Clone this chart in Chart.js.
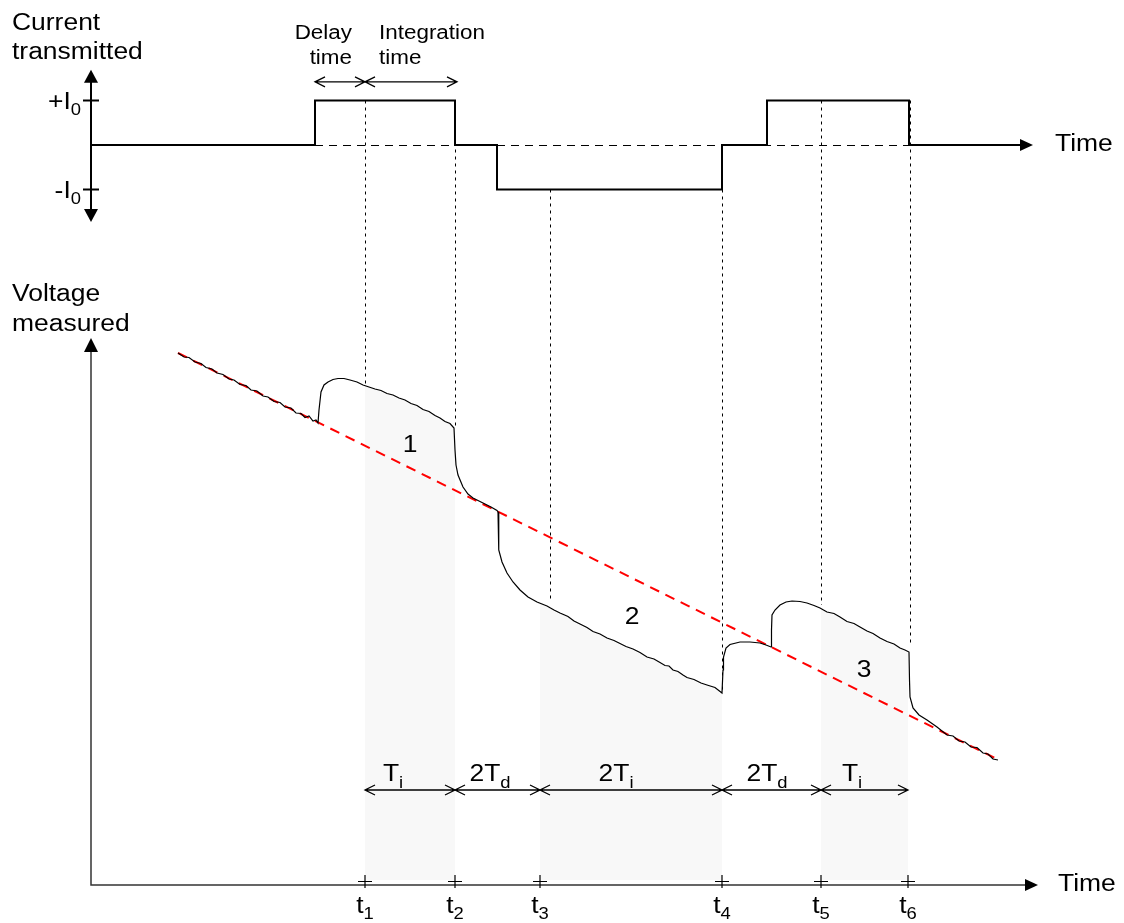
<!DOCTYPE html>
<html>
<head>
<meta charset="utf-8">
<script src="https://cdn.jsdelivr.net/npm/chart.js@4.4.1/dist/chart.umd.min.js"></script>
<style>
  html, body { margin: 0; padding: 0; background: #fff; }
  #wrap { width: 1124px; height: 923px; }
</style>
</head>
<body>
<div id="wrap"><canvas id="diagram" width="1124" height="923"></canvas></div>
<script>
// time in ms (arbitrary), voltage in mV (arbitrary), current in units of I0

// Current transmitted: level changes (step-before)
const currentTimes  = [0, 22.4, 36.4, 40.6, 63.1, 67.6, 81.8, 92.9];
const currentLevels = [0, 1, 0, -1, 0, 1, 0, 0];

// Voltage measured
const voltageTimes = [
    8.7, 9.3, 9.8, 10.4, 11.0, 11.5, 12.1, 12.6, 13.2, 13.8, 14.3, 14.9, 15.5, 16.0, 16.6, 17.2, 17.7, 18.3,
    18.9, 19.4, 20.0, 20.5, 21.0, 21.4, 21.8, 22.2, 22.5, 22.7,
    22.8, 23.0, 23.3, 23.7, 24.2, 24.7, 25.3, 25.9, 26.6, 27.2, 27.8, 28.4, 29.0, 29.6, 30.2, 30.8, 31.4,
    32.0, 32.6, 33.2, 33.8, 34.4, 34.9, 35.4, 35.9, 36.3,
    36.4, 36.5, 36.7, 37.2, 37.7, 38.2, 39.2, 40.0, 40.6, 40.7,
    40.75, 40.8, 41.1, 41.6, 42.2, 42.9, 43.7, 44.6, 45.6, 46.3, 46.9, 47.7, 48.3, 48.9, 49.6, 50.2, 50.9,
    51.6, 52.3, 52.9, 53.5, 54.2, 54.9, 55.6, 56.3, 56.9, 57.4, 57.8, 58.2, 58.7, 59.2, 59.6, 60.3, 61.0,
    61.6, 62.4, 63.1,
    63.2, 63.25, 63.5, 63.9, 64.9, 65.9, 66.9, 67.5, 68.0,
    68.05, 68.1, 68.4, 68.9, 69.5, 70.1, 70.9, 71.6, 72.3, 72.9, 73.6, 74.3, 74.9, 75.6, 76.3, 76.9, 77.6,
    78.2, 78.9, 79.6, 80.3, 80.9, 81.4, 81.8,
    81.85, 81.9, 82.2, 82.8, 83.6, 84.6, 85.6, 86.2, 86.8, 87.4, 88.0, 88.6, 89.2, 89.7, 90.2, 90.7
];
const voltageValues = [
    53.2, 52.8, 52.75, 52.3, 52.15, 51.75, 51.6, 51.2, 51.05, 50.6, 50.5, 50.05, 49.95, 49.5, 49.4, 48.9, 48.8, 48.35,
    48.25, 47.8, 47.7, 47.2, 47.15, 46.75, 46.9, 46.4, 46.5, 46.2,
    47.5, 49.3, 50.0, 50.3, 50.55, 50.65, 50.65, 50.5, 50.3, 50.0, 49.8, 49.6, 49.45, 49.15, 49.0, 48.7, 48.5,
    48.15, 47.95, 47.55, 47.35, 46.95, 46.7, 46.35, 46.15, 45.7,
    43.5, 42.0, 41.0, 39.8, 39.1, 38.7, 38.2, 37.8, 37.45, 37.3,
    35.5, 33.5, 32.3, 31.2, 30.3, 29.5, 28.8, 28.3, 27.9, 27.5, 27.2, 26.85, 26.4, 26.1, 25.75, 25.35, 25.1,
    24.7, 24.45, 24.15, 23.85, 23.6, 23.25, 22.8, 22.6, 22.25, 21.95, 21.9, 21.5, 21.35, 21.0, 20.75, 20.55, 20.2,
    20.0, 19.75, 19.2,
    21.5, 22.8, 23.7, 24.05, 24.3, 24.3, 24.2, 24.0, 23.8,
    25.5, 27.0, 27.5, 28.0, 28.3, 28.4, 28.35, 28.2, 27.95, 27.7, 27.3, 27.15, 26.8, 26.35, 26.15, 25.8, 25.4,
    25.15, 24.7, 24.35, 24.1, 23.7, 23.5, 23.3,
    20.5, 18.8, 17.7, 17.0, 16.5, 15.8, 15.0, 14.9, 14.4, 14.3, 13.8, 13.75, 13.2, 13.1, 12.6, 12.5
];

// Background drift (red dashed)
const driftTimes  = [8.7, 90.4];
const driftValues = [53.2, 12.7];

// Sample instants t1..t6
const markerTimes = [27.4, 36.4, 44.9, 63.1, 73.0, 81.7];
const markerNames = ['1', '2', '3', '4', '5', '6'];

// Dotted guides: time, start level (current), end level (voltage)
const guideTimes  = [27.4, 36.4, 45.9, 63.1, 73.0, 81.9];
const guideStarts = [1, 1, -1, -1, 1, 1];
const guideEnds   = [49.9, 45.7, 28.5, 19.3, 28.0, 24.0];

// Integration windows (shaded)
const shadeStarts = [27.4, 44.9, 73.0];
const shadeEnds   = [36.4, 63.1, 81.7];
const shadeFloor  = 0.5;

// Interval labels between markers
const intervalMain = ['T', '2T', '2T', '2T', 'T'];
const intervalSub  = ['i', 'd', 'i', 'd', 'i'];
const intervalLabelTimes = [30.2, 39.9, 52.5, 67.6, 76.1];
const intervalLevel = 9.5;
const intervalLabelLevel = 10.4;

// Area numbers
const areaNames  = ['1', '2', '3'];
const areaTimes  = [31.9, 54.1, 77.3];
const areaValues = [43.9, 26.7, 21.4];

// Layout
const AREA_TOP = 5, AREA_BOTTOM = 885, I_ZERO_PX = 145, I_UNIT_PX = 44.5;
const SX = 1.15;
const FONT = '"Liberation Sans", Arial, Helvetica, sans-serif';
const SHADE = '#f8f8f8';

function drawText(ctx, str, x, y, size, align, baseline) {
    ctx.save();
    ctx.font = size + 'px ' + FONT;
    ctx.textBaseline = baseline || 'alphabetic';
    const w = ctx.measureText(str).width * SX;
    const x0 = align === 'center' ? x - w / 2 : align === 'right' ? x - w : x;
    ctx.translate(x0, y);
    ctx.scale(SX, 1);
    ctx.textAlign = 'left';
    ctx.fillStyle = '#000';
    ctx.fillText(str, 0, 0);
    ctx.restore();
}

function drawSubText(ctx, main, sub, x, y, size, subSize, align, drop) {
    ctx.save();
    ctx.font = size + 'px ' + FONT;
    const wm = ctx.measureText(main).width * SX;
    ctx.font = subSize + 'px ' + FONT;
    const ws = ctx.measureText(sub).width * SX;
    ctx.restore();
    const w = wm + ws;
    const x0 = align === 'center' ? x - w / 2 : align === 'right' ? x - w : x;
    drawText(ctx, main, x0, y, size, 'left');
    drawText(ctx, sub, x0 + wm, y + (drop || size * 0.3), subSize, 'left');
}

function filledHead(ctx, tx, ty, dir, len, half) {
    ctx.beginPath();
    ctx.moveTo(tx, ty);
    if (dir === 'up') { ctx.lineTo(tx - half, ty + len); ctx.lineTo(tx + half, ty + len); }
    if (dir === 'down') { ctx.lineTo(tx - half, ty - len); ctx.lineTo(tx + half, ty - len); }
    if (dir === 'right') { ctx.lineTo(tx - len, ty - half); ctx.lineTo(tx - len, ty + half); }
    ctx.closePath();
    ctx.fill();
}

function doubleArrow(ctx, xa, xb, y) {
    ctx.beginPath();
    ctx.moveTo(xa, y); ctx.lineTo(xb, y);
    ctx.moveTo(xa + 10, y - 5); ctx.lineTo(xa, y); ctx.lineTo(xa + 10, y + 5);
    ctx.moveTo(xb - 10, y - 5); ctx.lineTo(xb, y); ctx.lineTo(xb - 10, y + 5);
    ctx.stroke();
}

const diagramPlugin = {
    id: 'diagram',
    beforeDatasetsDraw(chart) {
        const ctx = chart.ctx;
        const x = chart.scales.x, yV = chart.scales.yV, yI = chart.scales.yI;
        const area = chart.chartArea;

        // shaded integration windows under the voltage curve
        const pts = chart.getDatasetMeta(2).data;
        const floor = yV.getPixelForValue(shadeFloor);
        shadeStarts.forEach((a, i) => {
            const xa = x.getPixelForValue(a), xb = x.getPixelForValue(shadeEnds[i]);
            ctx.save();
            ctx.beginPath();
            ctx.rect(xa, area.top, xb - xa, floor - area.top);
            ctx.clip();
            ctx.beginPath();
            ctx.moveTo(pts[0].x, floor);
            pts.forEach(p => ctx.lineTo(p.x, p.y));
            ctx.lineTo(pts[pts.length - 1].x, floor);
            ctx.closePath();
            ctx.fillStyle = SHADE;
            ctx.fill();
            ctx.restore();
        });

        // dashed zero-current reference
        ctx.save();
        ctx.strokeStyle = '#000';
        ctx.lineWidth = 1;
        ctx.setLineDash([8, 6]);
        const y0 = Math.round(yI.getPixelForValue(0)) + 0.5;
        ctx.beginPath();
        ctx.moveTo(x.getPixelForValue(0), y0);
        ctx.lineTo(x.getPixelForValue(92), y0);
        ctx.stroke();

        // dotted guides
        ctx.setLineDash([3, 4]);
        ctx.strokeStyle = '#000';
        guideTimes.forEach((t, i) => {
            const gx = Math.round(x.getPixelForValue(t)) + 0.5;
            ctx.beginPath();
            ctx.moveTo(gx, yI.getPixelForValue(guideStarts[i]));
            ctx.lineTo(gx, yV.getPixelForValue(guideEnds[i]));
            ctx.stroke();
        });
        ctx.restore();
    },
    afterDatasetsDraw(chart) {
        const ctx = chart.ctx;
        const x = chart.scales.x, yV = chart.scales.yV, yI = chart.scales.yI;
        const x0 = x.getPixelForValue(0);

        ctx.save();
        ctx.fillStyle = '#000';
        ctx.strokeStyle = '#000';

        // current axis
        const iTop = yI.getPixelForValue(1.69), iBot = yI.getPixelForValue(-1.73);
        ctx.lineWidth = 2;
        ctx.beginPath();
        ctx.moveTo(x0, iTop + 10); ctx.lineTo(x0, iBot - 10);
        ctx.stroke();
        filledHead(ctx, x0, iTop, 'up', 13, 7);
        filledHead(ctx, x0, iBot, 'down', 13, 7);
        [1, -1].forEach(v => {
            const ty = yI.getPixelForValue(v);
            ctx.beginPath(); ctx.moveTo(x0 - 8, ty); ctx.lineTo(x0 + 8, ty); ctx.stroke();
        });
        filledHead(ctx, x.getPixelForValue(94.2), yI.getPixelForValue(0), 'right', 13, 6);

        // voltage axes
        const vTop = yV.getPixelForValue(54.7), vBot = yV.getPixelForValue(0);
        ctx.strokeStyle = '#333';
        ctx.fillStyle = '#000';
        ctx.lineWidth = 1.5;
        ctx.beginPath();
        ctx.moveTo(x0, vTop + 12); ctx.lineTo(x0, vBot);
        ctx.lineTo(x.getPixelForValue(93.5), vBot);
        ctx.stroke();
        filledHead(ctx, x0, vTop, 'up', 14, 7);
        filledHead(ctx, x.getPixelForValue(94.7), vBot, 'right', 13, 6);

        // + ticks and t labels
        ctx.strokeStyle = '#000';
        ctx.lineWidth = 1.2;
        markerTimes.forEach((t, i) => {
            const mx = x.getPixelForValue(t);
            ctx.beginPath();
            ctx.moveTo(mx - 7, vBot - 3.5); ctx.lineTo(mx + 7, vBot - 3.5);
            ctx.moveTo(mx, vBot - 10); ctx.lineTo(mx, vBot + 3);
            ctx.stroke();
            drawSubText(ctx, 't', markerNames[i], mx, vBot + 28, 23, 16, 'center', 6);
        });

        // interval arrows
        ctx.lineWidth = 1.3;
        const ay = yV.getPixelForValue(intervalLevel);
        for (let i = 0; i < markerTimes.length - 1; i++) {
            doubleArrow(ctx, x.getPixelForValue(markerTimes[i]), x.getPixelForValue(markerTimes[i + 1]), ay);
            drawSubText(ctx, intervalMain[i], intervalSub[i], x.getPixelForValue(intervalLabelTimes[i]),
                yV.getPixelForValue(intervalLabelLevel), 23, 16, 'center');
        }

        // delay / integration arrows
        const dy = yI.getPixelForValue(1.42);
        doubleArrow(ctx, x.getPixelForValue(22.4), x.getPixelForValue(27.4), dy);
        doubleArrow(ctx, x.getPixelForValue(27.4), x.getPixelForValue(36.6), dy);
        drawText(ctx, 'Delay', x.getPixelForValue(26.1), 39, 19.5, 'right');
        drawText(ctx, 'time', x.getPixelForValue(26.1), 64, 19.5, 'right');
        drawText(ctx, 'Integration', x.getPixelForValue(28.8), 39, 19.5, 'left');
        drawText(ctx, 'time', x.getPixelForValue(28.8), 64, 19.5, 'left');

        // area numbers
        areaNames.forEach((n, i) => {
            drawText(ctx, n, x.getPixelForValue(areaTimes[i]), yV.getPixelForValue(areaValues[i]), 23, 'center', 'middle');
        });

        // axis titles and level labels
        drawText(ctx, 'Current', 12, 30, 23, 'left');
        drawText(ctx, 'transmitted', 12, 59, 23, 'left');
        drawText(ctx, 'Voltage', 12, 301, 23, 'left');
        drawText(ctx, 'measured', 12, 331, 23, 'left');
        drawText(ctx, 'Time', 1055, yI.getPixelForValue(0), 23, 'left', 'middle');
        drawText(ctx, 'Time', 1058, vBot, 23, 'left', 'middle');
        drawSubText(ctx, '+I', '0', x0 - 10, yI.getPixelForValue(1) + 8, 23, 16, 'right');
        drawSubText(ctx, '-I', '0', x0 - 10, yI.getPixelForValue(-1) + 8, 23, 16, 'right');

        ctx.restore();
    }
};

const ctx = document.getElementById('diagram').getContext('2d');
new Chart(ctx, {
    type: 'line',
    data: {
        datasets: [
            {
                label: 'Current transmitted',
                data: currentTimes.map((t, i) => ({ x: t, y: currentLevels[i] })),
                yAxisID: 'yI',
                stepped: true,
                borderColor: '#000',
                borderWidth: 2,
                pointRadius: 0,
                order: 1
            },
            {
                label: 'Drift',
                data: driftTimes.map((t, i) => ({ x: t, y: driftValues[i] })),
                yAxisID: 'yV',
                borderColor: '#ff0000',
                borderWidth: 2,
                borderDash: [10, 7],
                pointRadius: 0,
                order: 3
            },
            {
                label: 'Voltage measured',
                data: voltageTimes.map((t, i) => ({ x: t, y: voltageValues[i] })),
                yAxisID: 'yV',
                borderColor: '#000',
                borderWidth: 1.2,
                pointRadius: 0,
                tension: 0,
                order: 2
            }
        ]
    },
    options: {
        responsive: false,
        animation: false,
        events: [],
        layout: { padding: { left: 91, right: 83, top: AREA_TOP, bottom: 923 - AREA_BOTTOM } },
        plugins: { legend: { display: false }, tooltip: { enabled: false } },
        scales: {
            x: { type: 'linear', min: 0, max: 95, display: false },
            yV: { type: 'linear', min: 0, max: 88, display: false },
            yI: {
                type: 'linear',
                min: -(AREA_BOTTOM - I_ZERO_PX) / I_UNIT_PX,
                max: (I_ZERO_PX - AREA_TOP) / I_UNIT_PX,
                display: false
            }
        }
    },
    plugins: [diagramPlugin]
});
</script>
</body>
</html>
